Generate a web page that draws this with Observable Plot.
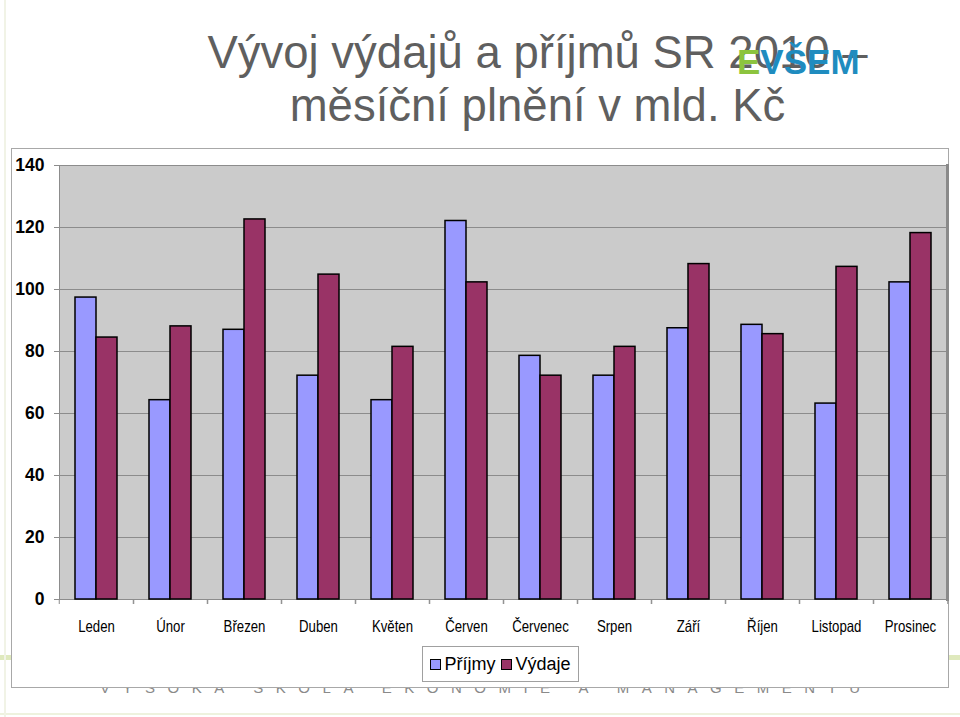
<!DOCTYPE html>
<html>
<head>
<meta charset="utf-8">
<script src="https://cdn.jsdelivr.net/npm/d3@7"></script>
<script src="https://cdn.jsdelivr.net/npm/@observablehq/plot@0.6"></script>
<style>
  html, body { margin: 0; padding: 0; background: #fff; }
  #page { position: relative; width: 960px; height: 717px; overflow: hidden; font-family: "Liberation Sans", Arial, sans-serif; }
  .deco-h { position: absolute; left: 0; width: 960px; }
  .title { position: absolute; left: 0; width: 1075px; text-align: center; font-size: 45.5px; line-height: 1; color: #5f5f5f; white-space: nowrap; }
  #logo { position: absolute; left: 737px; top: 44px; font-size: 35px; font-weight: bold; line-height: 1; white-space: nowrap; }
  #footer { position: absolute; left: 100px; top: 680px; font-size: 15px; line-height: 1; color: #8a8a8a; letter-spacing: 12.5px; white-space: nowrap; }
  #box { position: absolute; left: 11px; top: 148px; width: 936px; height: 538px; border: 1px solid #a8a8a8; background: #fff; }
  #chart { position: absolute; left: 0; top: 148px; }
  #legend { position: absolute; left: 422px; top: 646px; width: 155px; height: 34px; border: 1px solid #a0a0a0; background: #fff; display: flex; align-items: center; justify-content: center; font-size: 18px; color: #000; }
  #legend .item { display: flex; align-items: center; margin: 0 3px; }
  #legend .sw { display: inline-block; width: 9px; height: 9px; border: 1px solid #000; margin-right: 3px; }
</style>
</head>
<body>
<div id="page">
  <div class="deco-h" style="top:655px;height:5px;background:#dfe9bd;"></div>
  <div class="deco-h" style="top:713px;height:2px;background:#eef2de;"></div>
  <div style="position:absolute;left:4px;top:0;width:2px;height:717px;background:#f1f3e6;"></div>
  <div id="footer">VYSOKÁ ŠKOLA EKONOMIE A MANAGEMENTU</div>
  <div class="title" style="top:30px;">Vývoj výdajů a příjmů SR 2010 –</div>
  <div class="title" style="top:83px;">měsíční plnění v mld. Kč</div>
  <div id="logo"><span style="color:#8cc43e;">E</span><span style="color:#1f8cbf;">VŠEM</span></div>
  <div id="box"></div>
  <div id="chart"></div>
  <div id="legend"></div>
</div>
<script>
const months = ["Leden","Únor","Březen","Duben","Květen","Červen","Červenec","Srpen","Září","Říjen","Listopad","Prosinec"];
const series = ["Příjmy","Výdaje"];
const prijmy = [97.4, 64.3, 87.0, 72.2, 64.3, 122.1, 78.6, 72.2, 87.5, 88.6, 63.2, 102.3];
const vydaje = [84.5, 88.1, 122.6, 104.8, 81.5, 102.3, 72.2, 81.5, 108.2, 85.6, 107.3, 118.2];
const yTicks = [0, 20, 40, 60, 80, 100, 120, 140];
const colors = ["#9999ff", "#993366"];

const data = months.flatMap((m, i) => [
  {month: m, series: series[0], value: prijmy[i]},
  {month: m, series: series[1], value: vydaje[i]}
]);

const W = 960, ML = 56, MR = 10;
const halfStep = (W - ML - MR) / months.length / 2;
const gridColor = "#8c8c8c";
const plotBg = "#cbcbcb";

const chart = Plot.plot({
  width: W,
  height: 495,
  marginTop: 17,
  marginBottom: 44,
  marginLeft: ML,
  marginRight: MR,
  style: {background: "transparent", fontFamily: "'Liberation Sans', Arial, sans-serif", overflow: "visible", color: "#000"},
  fx: {domain: months, paddingInner: 0, paddingOuter: 0, label: null, axis: null},
  x: {domain: series, paddingInner: 0, paddingOuter: 0.69, axis: null},
  y: {domain: [0, 140], label: null},
  color: {domain: series, range: colors},
  marks: [
    Plot.frame({fill: plotBg, stroke: plotBg, strokeWidth: 1}),
    Plot.gridY(yTicks.slice(1), {stroke: gridColor, strokeOpacity: 1, strokeWidth: 1}),
    Plot.ruleY([0], {stroke: gridColor, strokeWidth: 1}),
    Plot.frame({anchor: "right", facetAnchor: "right", stroke: "#8a8a8a", strokeWidth: 3}),
    Plot.frame({anchor: "left", facetAnchor: "left", stroke: gridColor, strokeWidth: 1}),
    Plot.axisY(yTicks, {tickSize: 5, tickPadding: 10, fontSize: 17.5, fontWeight: "bold", stroke: gridColor, fill: "#000", label: null}),
    Plot.axisFx({anchor: "bottom", tickSize: 0, tickPadding: 21, fontSize: 16.5, fill: "#000", label: null, className: "month-labels"}),
    Plot.axisFx({anchor: "bottom", tickSize: 5, tickFormat: () => "", dx: -halfStep, stroke: gridColor, label: null}),
    Plot.axisFx({anchor: "bottom", tickSize: 5, tickFormat: () => "", dx: halfStep, stroke: gridColor, label: null}),
    Plot.barY(data, {fx: "month", x: "series", y: "value", fill: "series", stroke: "#000", strokeWidth: 1.5})
  ]
});
document.getElementById("chart").appendChild(chart);

// condense the month labels horizontally (the reference uses a narrow face)
chart.querySelectorAll(".month-labels text").forEach(t => {
  const len = t.getComputedTextLength();
  if (len > 0) {
    t.setAttribute("textLength", (len * 0.8).toFixed(1));
    t.setAttribute("lengthAdjust", "spacingAndGlyphs");
  }
});

const legend = document.getElementById("legend");
series.forEach((s, i) => {
  const item = document.createElement("span");
  item.className = "item";
  const sw = document.createElement("span");
  sw.className = "sw";
  sw.style.background = colors[i];
  item.appendChild(sw);
  item.appendChild(document.createTextNode(s));
  legend.appendChild(item);
});
</script>
</body>
</html>
